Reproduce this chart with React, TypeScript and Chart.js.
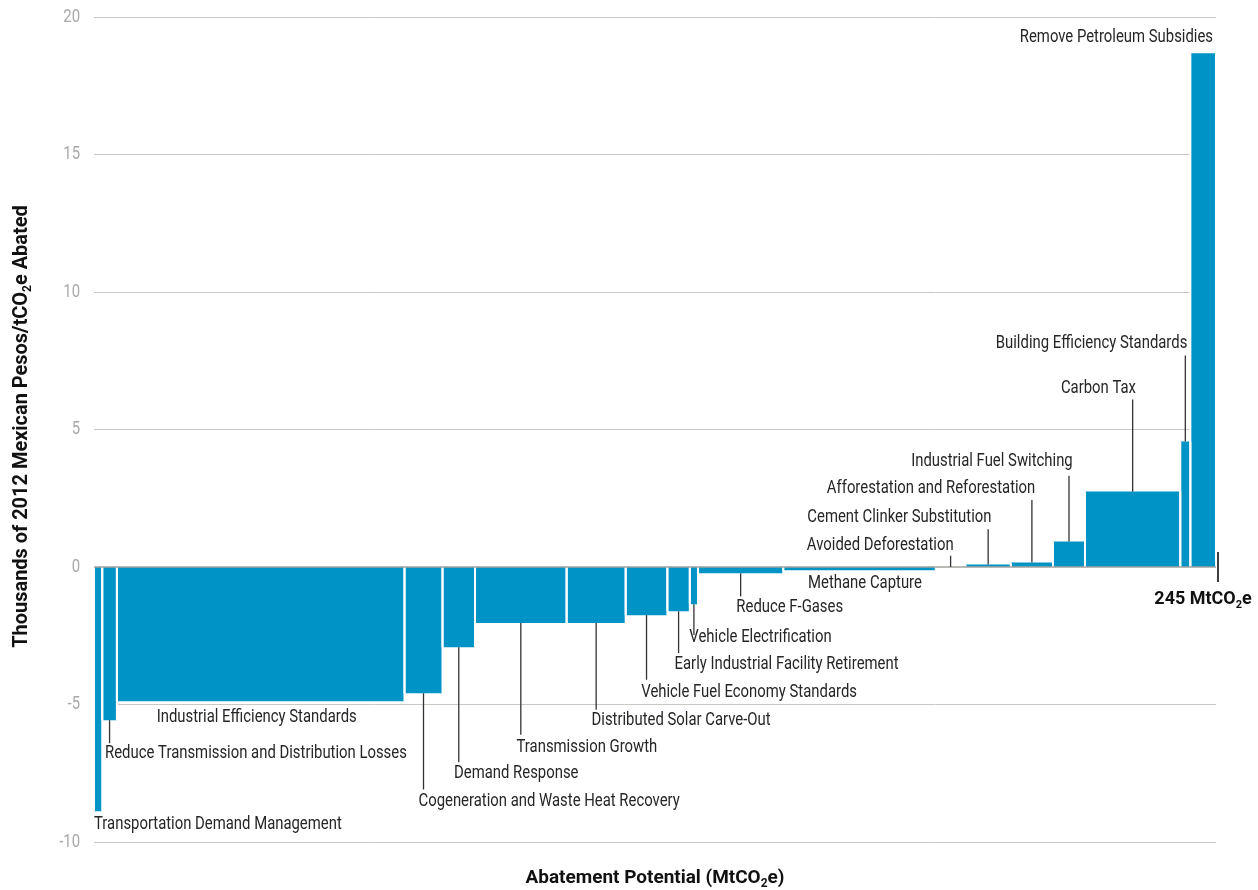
import { useEffect, useRef } from "react";
import { Chart, registerables } from "chart.js";

Chart.register(...registerables);

// ---------------- data ----------------
const measures = [
  "Transportation Demand Management",
  "Reduce Transmission and Distribution Losses",
  "Industrial Efficiency Standards",
  "Cogeneration and Waste Heat Recovery",
  "Demand Response",
  "Transmission Growth",
  "Distributed Solar Carve-Out",
  "Vehicle Fuel Economy Standards",
  "Early Industrial Facility Retirement",
  "Vehicle Electrification",
  "Reduce F-Gases",
  "Methane Capture",
  "Avoided Deforestation",
  "Cement Clinker Substitution",
  "Afforestation and Reforestation",
  "Industrial Fuel Switching",
  "Carbon Tax",
  "Building Efficiency Standards",
  "Remove Petroleum Subsidies",
];

// abatement potential (MtCO2e), width of each bar
const potentials = [1.8, 3.2, 62.8, 8.3, 7.1, 20.0, 12.9, 9.1, 4.9, 1.8, 18.6, 33.3, 6.5, 9.9, 9.2, 7.0, 20.8, 2.2, 5.6];

// cost (thousands of 2012 Mexican pesos / tCO2e), height of each bar
const costs = [-8.88, -5.57, -4.88, -4.59, -2.92, -2.04, -2.04, -1.75, -1.61, -1.35, -0.23, -0.12, 0.0, 0.09, 0.16, 0.93, 2.75, 4.56, 18.68];

const yTicks = [-10, -5, 0, 5, 10, 15, 20];
const totalPotential = 245;
const totalLabel = "245 MtCO{2}e";
const xTitle = "Abatement Potential (MtCO{2}e)";
const yTitle = "Thousands of 2012 Mexican Pesos/tCO{2}e Abated";

// label placement (layout only): anchor on bar, text alignment, pixel nudge,
// text centre (value units) and leader-line end (value units)
type LabelSpec = { anchor: "start" | "center" | "end"; align: CanvasTextAlign; dx: number; textY: number; leaderTo: number | null };
const labelLayout: LabelSpec[] = [
  { anchor: "start", align: "left", dx: 0, textY: -9.36, leaderTo: null },
  { anchor: "center", align: "left", dx: -4.5, textY: -6.77, leaderTo: -6.41 },
  { anchor: "center", align: "center", dx: -4, textY: -5.46, leaderTo: null },
  { anchor: "center", align: "left", dx: -5, textY: -8.52, leaderTo: -8.09 },
  { anchor: "center", align: "left", dx: -4.7, textY: -7.52, leaderTo: -7.1 },
  { anchor: "center", align: "left", dx: -4.3, textY: -6.55, leaderTo: -6.1 },
  { anchor: "center", align: "left", dx: -4.6, textY: -5.58, leaderTo: -5.19 },
  { anchor: "center", align: "left", dx: -5.3, textY: -4.57, leaderTo: -4.1 },
  { anchor: "center", align: "left", dx: -4, textY: -3.55, leaderTo: -3.13 },
  { anchor: "center", align: "left", dx: -4.6, textY: -2.55, leaderTo: -2.47 },
  { anchor: "center", align: "left", dx: -4.3, textY: -1.46, leaderTo: -1.07 },
  { anchor: "center", align: "center", dx: 5.5, textY: -0.59, leaderTo: null },
  { anchor: "center", align: "right", dx: 3, textY: 0.78, leaderTo: 0.41 },
  { anchor: "center", align: "right", dx: 3.3, textY: 1.79, leaderTo: 1.37 },
  { anchor: "center", align: "right", dx: 3.4, textY: 2.87, leaderTo: 2.44 },
  { anchor: "center", align: "right", dx: 3.7, textY: 3.84, leaderTo: 3.32 },
  { anchor: "center", align: "right", dx: 3.3, textY: 6.5, leaderTo: 6.09 },
  { anchor: "center", align: "right", dx: 2, textY: 8.12, leaderTo: 7.69 },
  { anchor: "end", align: "right", dx: -3, textY: 19.27, leaderTo: null },
];

// ---------------- style ----------------
const BLUE = "#0093c6";
const FONT = "Roboto, 'Liberation Sans', 'DejaVu Sans', sans-serif";
const TEXT = "#262626";

function starts(): number[] {
  const out: number[] = [];
  let acc = 0;
  for (const w of potentials) {
    out.push(acc);
    acc += w;
  }
  return out;
}

// horizontal compression so a regular face looks like the condensed face of the original
const squishCache: Record<string, number> = {};
function squish(ctx: CanvasRenderingContext2D, weight: string): number {
  if (squishCache[weight]) return squishCache[weight];
  const sample = weight === "bold" ? "Abatement Potential (MtCOe)" : "Industrial Efficiency Standards";
  const target = weight === "bold" ? 252 : 200;
  const size = weight === "bold" ? 19 : 18;
  ctx.font = `${weight} ${size}px ${FONT}`;
  const w = ctx.measureText(sample).width;
  const f = w > 0 ? Math.min(1, target / w) : 0.85;
  squishCache[weight] = f;
  return f;
}

function drawRich(
  ctx: CanvasRenderingContext2D,
  text: string,
  x: number,
  y: number,
  align: CanvasTextAlign,
  size: number,
  weight: string
) {
  const parts: { t: string; sub: boolean }[] = [];
  const re = /\{([^}]*)\}/g;
  let last = 0;
  let m: RegExpExecArray | null;
  while ((m = re.exec(text))) {
    if (m.index > last) parts.push({ t: text.slice(last, m.index), sub: false });
    parts.push({ t: m[1], sub: true });
    last = m.index + m[0].length;
  }
  if (last < text.length) parts.push({ t: text.slice(last), sub: false });
  const sx = squish(ctx, weight);
  const mainFont = `${weight} ${size}px ${FONT}`;
  const subFont = `${weight} ${Math.round(size * 0.62)}px ${FONT}`;
  let total = 0;
  for (const p of parts) {
    ctx.font = p.sub ? subFont : mainFont;
    total += ctx.measureText(p.t).width * sx;
  }
  let cx = align === "center" ? x - total / 2 : align === "right" ? x - total : x;
  ctx.textAlign = "left";
  ctx.textBaseline = "middle";
  for (const p of parts) {
    ctx.font = p.sub ? subFont : mainFont;
    ctx.save();
    ctx.translate(cx, p.sub ? y + size * 0.32 : y);
    ctx.scale(sx, 1);
    ctx.fillText(p.t, 0, 0);
    ctx.restore();
    cx += ctx.measureText(p.t).width * sx;
  }
}

const annotate = {
  id: "annotate",
  afterDatasetsDraw(chart: any) {
    const { ctx, chartArea } = chart;
    const xs = chart.scales.x;
    const ys = chart.scales.y;
    const st = starts();
    ctx.save();

    // y tick labels
    ctx.fillStyle = "#a9a9a9";
    for (const v of yTicks) {
      drawRich(ctx, String(v), chartArea.left - 14, ys.getPixelForValue(v), "right", 18, "normal");
    }

    // zero line
    const y0 = ys.getPixelForValue(0);
    ctx.strokeStyle = "#a2a29d";
    ctx.lineWidth = 1.6;
    ctx.beginPath();
    ctx.moveTo(chartArea.left, y0);
    ctx.lineTo(chartArea.right, y0);
    ctx.stroke();

    // labels + leaders
    for (let i = 0; i < measures.length; i++) {
      const spec = labelLayout[i];
      const s = st[i];
      const e = s + potentials[i];
      const v = spec.anchor === "start" ? s : spec.anchor === "end" ? e : (s + e) / 2;
      const px = xs.getPixelForValue(v);
      if (spec.leaderTo !== null) {
        ctx.strokeStyle = "#333";
        ctx.lineWidth = 1.3;
        ctx.beginPath();
        ctx.moveTo(px, ys.getPixelForValue(costs[i]));
        ctx.lineTo(px, ys.getPixelForValue(spec.leaderTo));
        ctx.stroke();
      }
      ctx.fillStyle = TEXT;
      drawRich(ctx, measures[i], px + spec.dx, ys.getPixelForValue(spec.textY), spec.align, 18, "normal");
    }

    // total marker
    const xr = xs.getPixelForValue(totalPotential) + 2;
    ctx.strokeStyle = "#111";
    ctx.lineWidth = 1.6;
    ctx.beginPath();
    ctx.moveTo(xr, y0 - 15);
    ctx.lineTo(xr, y0 + 15);
    ctx.stroke();
    ctx.fillStyle = "#111";
    drawRich(ctx, totalLabel, xr - 15, y0 + 32, "center", 18, "bold");

    // axis titles
    drawRich(ctx, xTitle, (chartArea.left + chartArea.right) / 2, chart.height - 12, "center", 19, "bold");
    ctx.translate(chartArea.left - 72, (chartArea.top + chartArea.bottom) / 2 - 3);
    ctx.rotate(-Math.PI / 2);
    drawRich(ctx, yTitle, 0, 0, "center", 20, "bold");
    ctx.restore();
  },
};

export default function App() {
  const ref = useRef<HTMLCanvasElement | null>(null);

  useEffect(() => {
    if (!ref.current) return;
    const st = starts();
    const datasets = measures.map((name, i) => {
      const s = st[i];
      const e = s + potentials[i];
      return {
        label: name,
        data: [
          { x: s, y: 0 },
          { x: s, y: costs[i] },
          { x: e, y: costs[i] },
          { x: e, y: 0 },
        ],
        fill: "origin",
        backgroundColor: BLUE,
        borderColor: "#ffffff",
        borderWidth: 2,
        pointRadius: 0,
        tension: 0,
        segment: {
          borderColor: (c: any) => (c.p0DataIndex === 1 ? "rgba(0,0,0,0)" : "#ffffff"),
        },
      };
    });

    const chart = new Chart(ref.current, {
      type: "line",
      data: { datasets: datasets as any },
      options: {
        animation: false,
        responsive: false,
        events: [],
        layout: { padding: { top: 17, right: 42, bottom: 48, left: 0 } },
        plugins: {
          legend: { display: false },
          tooltip: { enabled: false },
          filler: { drawTime: "beforeDatasetsDraw" } as any,
        },
        scales: {
          x: { type: "linear", min: 0, max: totalPotential, display: false },
          y: {
            type: "linear",
            min: yTicks[0],
            max: yTicks[yTicks.length - 1],
            afterFit: (scale: any) => {
              scale.width = 94;
            },
            afterBuildTicks: (scale: any) => {
              scale.ticks = yTicks.map((v) => ({ value: v }));
            },
            ticks: { display: false },
            grid: {
              drawTicks: false,
              color: (c: any) => (c.tick && c.tick.value === 0 ? "rgba(0,0,0,0)" : "#c9c9c4"),
              lineWidth: 1,
            },
            border: { display: false },
          },
        },
      },
      plugins: [annotate],
    });
    return () => chart.destroy();
  }, []);

  return (
    <div style={{ position: "absolute", left: 0, top: 0, width: 1258, height: 890, background: "#fff" }}>
      <canvas ref={ref} width={1258} height={890} style={{ display: "block" }} />
    </div>
  );
}
